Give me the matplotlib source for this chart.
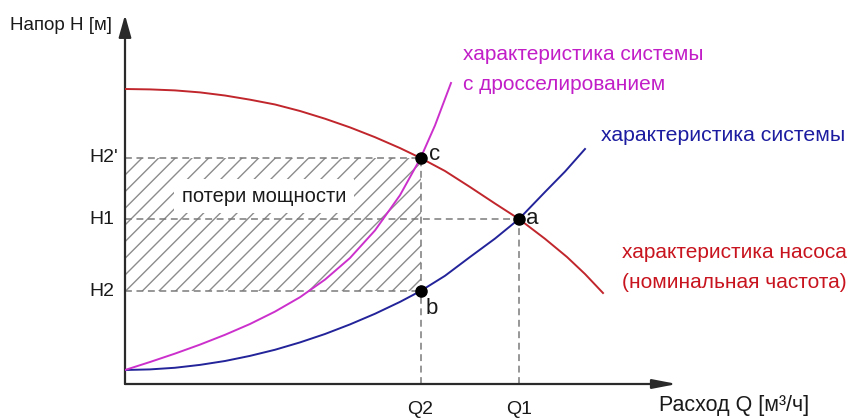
import matplotlib.pyplot as plt

plt.rcParams['font.family'] = ['Liberation Sans', 'DejaVu Sans']

# Values (Q in m3/h, H in m, arbitrary scale)
pump_q = [0, 6.25, 12.5, 18.75, 25, 31.25, 37.5, 43.75, 50, 56.25, 62.5,
          68.75, 73.9, 80, 86.25, 92.5, 98.5, 105, 110.5, 115, 119.5]
pump_h = [73.75, 73.65, 73.4, 72.9, 72.12, 71.08, 69.88, 68.25, 66.32, 64.15, 61.7,
          58.98, 56.5, 53.25, 49.25, 45.12, 41.25, 36.3, 31.75, 27.5, 22.75]

system_q = [0, 6.25, 12.5, 18.75, 25, 31.25, 37.5, 43.75, 50, 56.25,
            62.5, 68.75, 73.9, 80, 86.25, 92.5, 98.5, 105, 110, 115]
system_h = [3.5, 3.65, 4.06, 4.78, 5.75, 7.03, 8.56, 10.4, 12.5, 14.9,
            17.56, 20.53, 23.25, 27.05, 31.75, 36.35, 41.25, 48.0, 53.1, 58.75]

throttled_q = [0, 6.25, 12.5, 18.75, 25, 31.25, 37.5, 43.75, 50, 56.25,
               62.5, 68.75, 73.9, 77.5, 81.5]
throttled_h = [3.5, 5.5, 7.6, 9.85, 12.3, 15.0, 18.1, 21.7, 26.1, 31.5,
               38.4, 47.2, 56.5, 64.65, 75.25]

Q2, Q1 = 73.9, 98.5
H2, H1, H2p = 23.25, 41.25, 56.5

point_q = [Q1, Q2, Q2]
point_h = [H1, H2, H2p]
point_names = ['a', 'b', 'c']

q_ticks = [Q2, Q1]
q_tick_labels = ['Q2', 'Q1']
h_ticks = [H2, H1, H2p]
h_tick_labels = ['H2', 'H1', "H2'"]

red = '#c0262c'
blue = '#23239a'
magenta = '#cc30cc'
grey = '#7a7a7a'
ink = '#1a1a1a'

fig = plt.figure(figsize=(8.49, 4.18), dpi=100)
ax = fig.add_axes([125 / 849, 34 / 418, 552 / 849, 369 / 418])
ax.set_xlim(0, 138)
ax.set_ylim(0, 92.25)
ax.axis('off')


def fpos(x, y):
    # pixel position in the 849x418 picture -> figure fraction
    return x / 849, 1 - y / 418


# axes with arrows
ax.annotate('', xy=(138, 0), xytext=(0, 0), annotation_clip=False,
            arrowprops=dict(arrowstyle='-|>,head_length=1.45,head_width=0.28',
                            color='#2a2a2a', lw=1.6, shrinkA=0, shrinkB=0))
ax.annotate('', xy=(0, 92.25), xytext=(0, 0), annotation_clip=False,
            arrowprops=dict(arrowstyle='-|>,head_length=1.35,head_width=0.38',
                            color='#2a2a2a', lw=1.6, shrinkA=0, shrinkB=0))

# power loss area
ax.fill_between([0, Q2], [H2, H2], [H2p, H2p], facecolor='none',
                edgecolor='#8c8c8c', hatch='//', linewidth=0, zorder=1)

# dashed helper lines
dash = (0, (4.5, 3))
ax.hlines(h_ticks, 0, [Q2, Q1, Q2], colors=grey, linestyles=dash, lw=1.1, zorder=2)
ax.vlines(q_ticks, 0, [H2p, H1], colors=grey, linestyles=dash, lw=1.1, zorder=2)

# curves
ax.plot(pump_q, pump_h, color=red, lw=1.4, zorder=3)
ax.plot(system_q, system_h, color=blue, lw=1.4, zorder=3)
ax.plot(throttled_q, throttled_h, color=magenta, lw=1.4, zorder=3)

ax.plot(point_q, point_h, 'o', color='black', ms=8, zorder=5)

offsets = {'a': (7, 0), 'b': (5, -17), 'c': (8, 3)}
for q, h, name in zip(point_q, point_h, point_names):
    ax.annotate(name, xy=(q, h), xytext=offsets[name], textcoords='offset pixels',
                ha='left', va='center', fontsize=16, color=ink)

for h, lab in zip(h_ticks, h_tick_labels):
    ax.annotate(lab, xy=(0, h), xytext=(-36, 0), textcoords='offset pixels',
                ha='left', va='center', fontsize=14, color=ink)
for q, lab in zip(q_ticks, q_tick_labels):
    ax.annotate(lab, xy=(q, 0), xytext=(0, -25), textcoords='offset pixels',
                ha='center', va='center', fontsize=14, color=ink)

fig.text(*fpos(10, 25), 'Напор H [м]', ha='left', va='center', fontsize=13.5, color=ink)
fig.text(*fpos(659, 405), 'Расход Q [м³/ч]', ha='left', va='center', fontsize=15.5, color=ink)

fig.text(*fpos(264, 196), 'потери мощности', ha='center', va='center', fontsize=14.5,
         color=ink, zorder=6,
         bbox=dict(facecolor='white', edgecolor='none', pad=5.5))

fig.text(*fpos(463, 54), 'характеристика системы', ha='left', va='center',
         fontsize=15, color='#c21ec8')
fig.text(*fpos(463, 85), 'с дросселированием', ha='left', va='center',
         fontsize=15, color='#c21ec8')
fig.text(*fpos(601, 136), 'характеристика системы', ha='left', va='center',
         fontsize=15.3, color='#1c1ca0')
fig.text(*fpos(622, 252), 'характеристика насоса', ha='left', va='center',
         fontsize=15, color='#c8141e')
fig.text(*fpos(622, 283), '(номинальная частота)', ha='left', va='center',
         fontsize=15, color='#c8141e')

fig.savefig('out.png', dpi=100)
